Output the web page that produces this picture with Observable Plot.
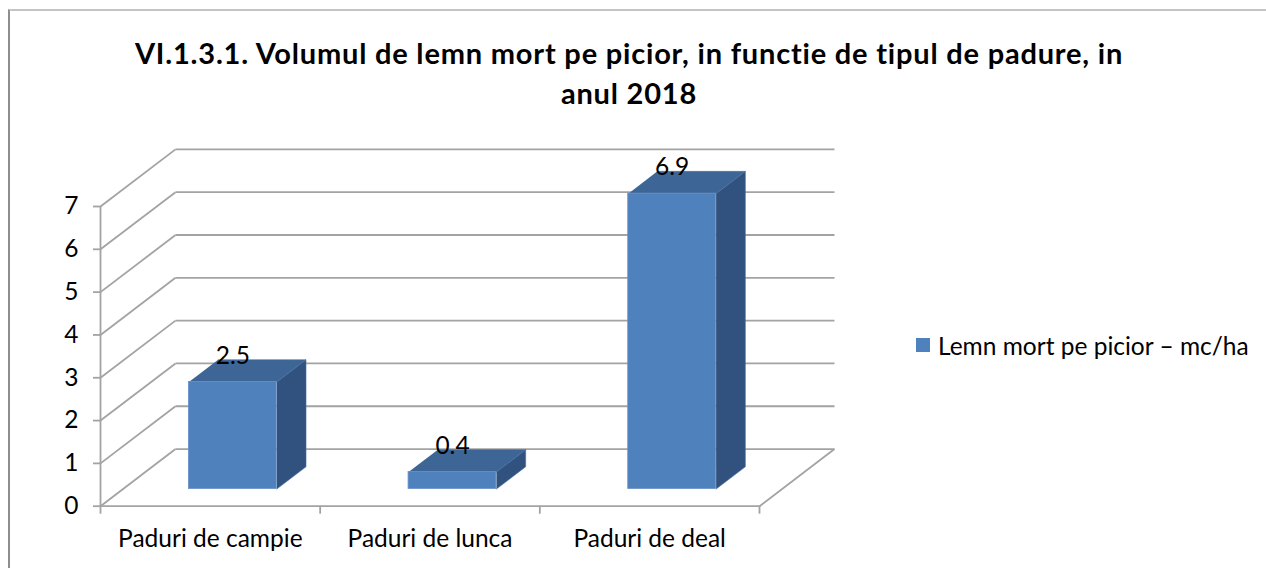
<!DOCTYPE html>
<html>
<head>
<meta charset="utf-8">
<script src="https://cdn.jsdelivr.net/npm/d3@7"></script>
<script src="https://cdn.jsdelivr.net/npm/@observablehq/plot@0.6"></script>
<style>
  html, body { margin: 0; padding: 0; background: #fff; width: 1266px; height: 568px; overflow: hidden; }
  #frame { position: absolute; left: 8px; top: 9px; width: 1300px; height: 600px;
           border-top: 2px solid #c4c4c4; border-left: 2px solid #8e8e8e; box-sizing: border-box; }
  #chart { position: absolute; left: 0; top: 0; }
  #title { position: absolute; left: 0; top: 33px; width: 1258px; text-align: center;
           font-family: Lato, sans-serif; font-weight: bold; font-size: 29px; letter-spacing: 0.8px;
           line-height: 40px; color: #000; }
  #legend { position: absolute; left: 916px; top: 331px; height: 28px; display: flex; align-items: center;
            font-family: Lato, sans-serif; font-size: 24.5px; color: #000; white-space: nowrap; }
  #legend .sw { width: 14px; height: 14px; background: #4f81bd; margin-right: 8px; }
</style>
</head>
<body>
<div id="frame"></div>
<div id="chart"></div>
<div id="title"></div>
<div id="legend"></div>
<script>
// ---- data ----
const titleLines = ["VI.1.3.1. Volumul de lemn mort pe picior, in functie de tipul de padure, in", "anul 2018"];
const categories = ["Paduri de campie", "Paduri de lunca", "Paduri de deal"];
const values = [2.5, 0.4, 6.9];
const yTicks = [0, 1, 2, 3, 4, 5, 6, 7];
const seriesName = "Lemn mort pe picior \u2013 mc/ha";

// ---- oblique projection (depth in data units) ----
const DX = 75 / 219.67;   // x shift of back wall, in category units
const DY = 57 / 42.73;    // y shift of back wall, in value units
const F = 0.30, B = 0.69; // bar front/back depth fractions
const HW = 0.2;           // half bar width in category units

const n = categories.length;
const P = (x, y, d) => ({x: x + d * DX, y: y + d * DY});

// gridlines / walls
const wallLinks = [];
for (const v of yTicks) {
  const a = P(0, v, 1), b = P(n, v, 1);
  wallLinks.push({x1: a.x, y1: a.y, x2: b.x, y2: b.y});          // back wall
  const c = P(0, v, 0);
  wallLinks.push({x1: c.x, y1: c.y, x2: a.x, y2: a.y});          // left wall diagonal
}
{
  const a = P(n, 0, 0), b = P(n, 0, 1);
  wallLinks.push({x1: a.x, y1: a.y, x2: b.x, y2: b.y});          // floor right edge
}

// bars
const fronts = [], polys = [], labels = [];
categories.forEach((c, i) => {
  const v = values[i], cx = i + 0.5;
  const fl0 = P(cx - HW, 0, F), fr0 = P(cx + HW, 0, F), fl1 = P(cx - HW, v, F), fr1 = P(cx + HW, v, F);
  const bl1 = P(cx - HW, v, B), br1 = P(cx + HW, v, B), br0 = P(cx + HW, 0, B);
  fronts.push({x1: fl0.x, x2: fr0.x, y1: fl0.y, y2: fl1.y});
  for (const p of [fl1, fr1, br1, bl1]) polys.push({...p, id: "top" + i, face: "top"});
  for (const p of [fr1, br1, br0, fr0]) polys.push({...p, id: "side" + i, face: "side"});
  const lp = P(cx, v, F), lb = P(cx, v, B);
  labels.push({x: lp.x, y: lb.y, text: String(v)});
});

const gridColor = "#a3a3a3";
const font = "Lato, sans-serif";
const fs = 24.5;

const chart = Plot.plot({
  width: 1266, height: 568,
  marginLeft: 100, marginRight: 507, marginTop: 206, marginBottom: 62.3,
  x: {type: "linear", domain: [0, n], axis: null},
  y: {domain: [0, 7], axis: null},
  style: {fontFamily: font, background: "transparent", overflow: "visible"},
  marks: [
    Plot.link(wallLinks, {x1: "x1", y1: "y1", x2: "x2", y2: "y2", stroke: gridColor, strokeWidth: 1.8}),
    Plot.ruleX([0], {y1: 0, y2: 7, stroke: gridColor, strokeWidth: 1.8}),
    Plot.ruleY([0], {x1: 0, x2: n, stroke: gridColor, strokeWidth: 1.8}),
    Plot.axisY({ticks: yTicks, tickSize: 7, tickPadding: 15, stroke: gridColor, strokeWidth: 1.8,
                fontSize: fs, fill: "#000", label: null, tickFormat: d => String(d)}),
    Plot.axisX({ticks: d3.range(n + 1), tickSize: 8, stroke: gridColor, strokeWidth: 1.8,
                tickFormat: () => "", label: null}),
    Plot.axisX({ticks: categories.map((c, i) => i + 0.5), tickSize: 0, tickPadding: 23,
                fontSize: fs, fill: "#000", label: null, tickFormat: d => categories[Math.round(d - 0.5)]}),
    Plot.line(polys, {x: "x", y: "y", z: "id", fill: d => d.face === "top" ? "#3d6596" : "#31527f",
                      stroke: "#4a72a6", strokeWidth: 0.6, curve: "linear"}),
    Plot.rect(fronts, {x1: "x1", x2: "x2", y1: "y1", y2: "y2", fill: "#4f81bd", stroke: "#6a93c8", strokeWidth: 0.8}),
    Plot.text(labels, {x: "x", y: "y", text: "text", lineAnchor: "bottom", dy: 4, fontSize: fs, fill: "#000"})
  ]
});
chart.style.overflow = "visible";
document.getElementById("chart").appendChild(chart);

document.getElementById("title").innerHTML = titleLines.map(t => `<div>${t}</div>`).join("");
document.getElementById("legend").innerHTML = `<div class="sw"></div><span>${seriesName}</span>`;
</script>
</body>
</html>
